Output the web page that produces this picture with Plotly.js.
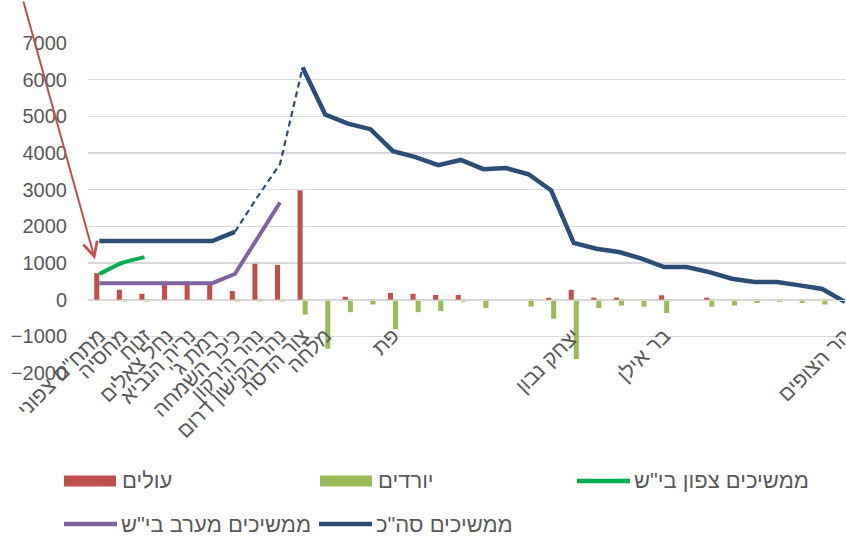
<!DOCTYPE html>
<html>
<head>
<meta charset="utf-8">
<script src="https://cdn.plot.ly/plotly-3.0.1.min.js"></script>
<style>
  html, body { margin: 0; padding: 0; background: #ffffff; overflow: hidden; }
  #chart { width: 846px; height: 536px; }
</style>
</head>
<body>
<div id="chart"></div>
<script>
// ---- data ----
const stations = [
  'מתח"ם צפוני', 'מחסיה', 'זנוח', 'נחל צאלים', 'נריה הנביא', "רמת ג'\u200F",
  'כיכר השמחה', 'נהר הירקון', 'נהר הקישון דרום', 'צור הדסה', 'מלחה',
  '', '', 'פת', '', '', '', '', '', '', '',
  'יצחק נבון', '', '', '', 'בר אילן', '', '', '', '', '', '', '', 'הר הצופים'
];
const boarding = [725, 270, 160, 450, 450, 450, 235, 980, 945, 2980, null, 80, null, 185, 160, 130, 130, null, null, null, 50, 270, 55, 55, null, 120, null, 55, null, null, null, null, null, null];
const alighting = [null, -50, -50, null, null, null, -50, -50, -50, -410, -1340, -340, -130, -805, -340, -310, -55, -230, null, -190, -520, -1620, -230, -160, -190, -365, null, -190, -160, -90, -60, -90, -130, null];
const northBS = [700, 1000, 1160];
const westBS = [450, 450, 450, 450, 450, 450, 700, 1680, 2650];
const totalRiders = [1600, 1600, 1600, 1600, 1600, 1600, 1850, 2800, 3700, 6330, 5050, 4800, 4650, 4050, 3890, 3670, 3810, 3560, 3590, 3420, 2980, 1550, 1390, 1300, 1120, 890, 890, 750, 570, 480, 480, 390, 290, -60];
const seriesNames = ['עולים', 'יורדים', 'ממשיכים צפון בי"ש', 'ממשיכים מערב בי"ש', 'ממשיכים סה"כ'];
const dashedFrom = 6, dashedTo = 9;

const idx = stations.map((_, i) => i);
const FONT = 'Liberation Sans, Arial, DejaVu Sans, sans-serif';
const TXT = '#595959';
const RED = '#C0504D', LGREEN = '#9BBB59', GREEN = '#00B050', PURPLE = '#8064A2', NAVY = '#2C4D75';

const seg = (arr, a, b) => arr.map((v, i) => (i >= a && i <= b ? v : null));

const traces = [
  { type: 'bar', name: seriesNames[0], x: idx, y: boarding, marker: { color: RED } },
  { type: 'bar', name: seriesNames[1], x: idx, y: alighting, marker: { color: LGREEN } },
  { type: 'scatter', mode: 'lines', name: seriesNames[2], x: idx.slice(0, northBS.length), y: northBS,
    line: { color: GREEN, width: 4, shape: 'spline', smoothing: 0.6 } },
  { type: 'scatter', mode: 'lines', name: seriesNames[3], x: idx.slice(0, westBS.length), y: westBS,
    line: { color: PURPLE, width: 4 } },
  { type: 'scatter', mode: 'lines', name: seriesNames[4], x: idx, y: seg(totalRiders, 0, dashedFrom),
    line: { color: NAVY, width: 4.5 } },
  { type: 'scatter', mode: 'lines', name: seriesNames[4], x: idx, y: seg(totalRiders, dashedFrom, dashedTo),
    line: { color: NAVY, width: 2.2, dash: '6px,4px' } },
  { type: 'scatter', mode: 'lines', name: seriesNames[4], x: idx, y: seg(totalRiders, dashedTo, totalRiders.length - 1),
    line: { color: NAVY, width: 4.5 } }
];

// ---- legend drawn as shapes + text (Excel-style wide swatches) ----
const M = { l: 88, r: 0, t: 43, b: 163 };
const W = 846, H = 536;
const PW = W - M.l - M.r, PH = H - M.t - M.b;
const px = v => (v - M.l) / PW;
const py = v => (H - M.b - v) / PH;
const legendItems = [
  { name: seriesNames[0], kind: 'rect', color: RED, x: 64, y: 481 },
  { name: seriesNames[1], kind: 'rect', color: LGREEN, x: 320, y: 481 },
  { name: seriesNames[2], kind: 'line', color: GREEN, x: 576, y: 481 },
  { name: seriesNames[3], kind: 'line', color: PURPLE, x: 63, y: 524 },
  { name: seriesNames[4], kind: 'line', color: NAVY, x: 318, y: 524 }
];
const shapes = [], annotations = [];
legendItems.forEach(it => {
  if (it.kind === 'rect') {
    shapes.push({ type: 'rect', xref: 'paper', yref: 'paper', x0: px(it.x), x1: px(it.x + 52), y0: py(it.y + 5.5), y1: py(it.y - 5.5),
      fillcolor: it.color, line: { width: 0 }, layer: 'above' });
  } else {
    shapes.push({ type: 'line', xref: 'paper', yref: 'paper', x0: px(it.x + 1), x1: px(it.x + 54), y0: py(it.y), y1: py(it.y),
      line: { color: it.color, width: 4.5 }, layer: 'above' });
  }
  annotations.push({ xref: 'paper', yref: 'paper', x: px(it.x + 56), y: py(it.y), xanchor: 'left', yanchor: 'middle',
    text: it.name, showarrow: false, font: { family: FONT, size: 22, color: TXT } });
});
annotations.push({
  x: -0.19, y: 1100, xref: 'x', yref: 'y', text: '', showarrow: true,
  arrowhead: 5, arrowsize: 1.4, arrowwidth: 2, arrowcolor: RED,
  ax: -72, ay: -279, axref: 'pixel', ayref: 'pixel', standoff: 0
});

const layout = {
  width: W, height: H,
  margin: { l: M.l, r: M.r, t: M.t, b: M.b, pad: 0 },
  paper_bgcolor: '#ffffff', plot_bgcolor: '#ffffff',
  font: { family: FONT, color: TXT },
  showlegend: false,
  barmode: 'group', bargap: 0.55, bargroupgap: 0,
  xaxis: {
    range: [-0.5, 33.05], tickmode: 'array', tickvals: idx, ticktext: stations,
    tickangle: -45, tickfont: { family: FONT, size: 21, color: TXT },
    anchor: 'free', position: 2 / 9, showline: true, linecolor: '#D9D9D9', linewidth: 1.5,
    showgrid: false, zeroline: false, ticks: '', ticklabelstandoff: 14, ticklabeloverflow: 'allow',
    automargin: false, fixedrange: true
  },
  yaxis: {
    range: [-2000, 7000], tick0: 0, dtick: 1000, showgrid: true, gridcolor: '#D9D9D9', gridwidth: 1.3,
    zeroline: false, ticks: '', tickfont: { family: FONT, size: 20, color: TXT },
    ticklabelstandoff: 20, automargin: false, fixedrange: true
  },
  shapes: shapes,
  annotations: annotations
};

Plotly.newPlot('chart', traces, layout, { displayModeBar: false, staticPlot: true });
</script>
</body>
</html>
